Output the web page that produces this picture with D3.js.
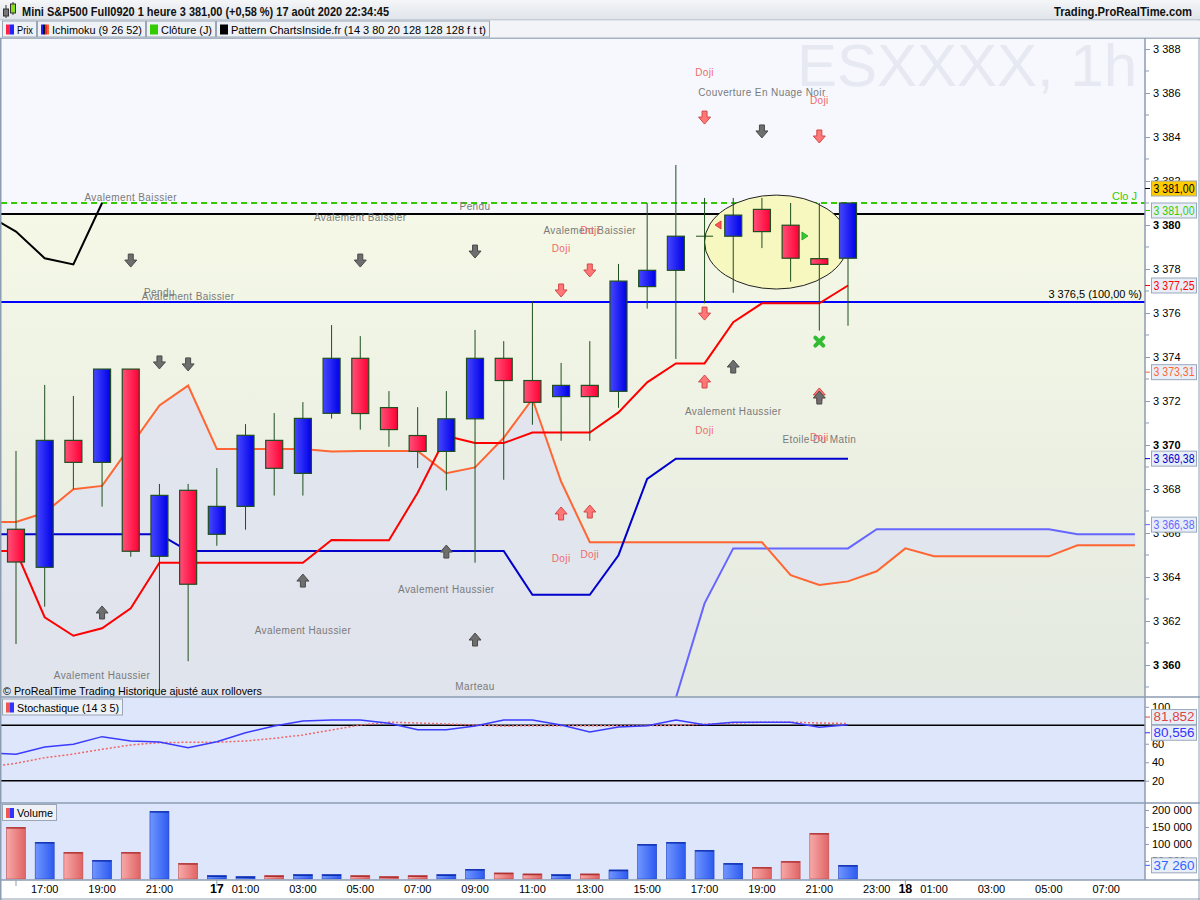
<!DOCTYPE html>
<html><head><meta charset="utf-8">
<script src="https://cdn.jsdelivr.net/npm/d3@7"></script>
<style>body{margin:0;background:#fff;} svg{display:block;font-family:"Liberation Sans",Arial,sans-serif;}</style>
</head><body><svg id="c" width="1200" height="900"></svg>
<script>
// ---------- DATA ----------
const xTickIdx    = [1,3,5,7,8,10,12,14,16,18,20,22,24,26,28,30,31,32,34,36,38];
const xTickLabels = ["17:00","19:00","21:00","17","01:00","03:00","05:00","07:00","09:00","11:00","13:00","15:00","17:00","19:00","21:00","23:00","18","01:00","03:00","05:00","07:00"];

const opens  = [3366.17,3364.44,3370.21,3369.21,3373.45,3364.94,3367.94,3365.94,3367.21,3370.21,3368.71,3371.44,3373.94,3371.70,3370.43,3369.71,3371.19,3373.94,3372.93,3372.20,3372.71,3372.44,3377.20,3377.94,3379.49,3379.49,3380.71,3379.99,3378.47,3378.49];
const highs  = [3369.73,3372.73,3372.23,3373.45,3373.45,3368.23,3368.23,3368.95,3370.95,3371.45,3371.95,3375.45,3374.95,3372.45,3371.72,3372.45,3375.23,3374.72,3376.52,3373.73,3374.72,3378.23,3380.99,3382.73,3381.23,3381.23,3381.23,3381.00,3381.00,3381.00];
const lows   = [3360.95,3362.65,3367.99,3367.20,3364.92,3358.86,3360.17,3365.42,3366.15,3367.70,3367.70,3371.20,3370.70,3369.92,3368.95,3367.94,3364.65,3368.42,3370.92,3370.19,3370.19,3371.69,3376.20,3373.91,3376.44,3376.92,3378.95,3377.42,3375.20,3375.42];
const closes = [3364.68,3370.21,3369.21,3373.45,3365.17,3367.71,3363.67,3367.21,3370.44,3368.94,3371.21,3373.94,3371.43,3370.70,3369.71,3371.19,3373.94,3372.93,3371.94,3372.71,3372.20,3377.45,3377.94,3379.49,3379.49,3380.45,3379.70,3378.49,3378.21,3381.00];
const volumes = [149000,105000,75600,52000,75600,196000,43000,6800,4000,6800,9800,9800,6800,4000,6800,9800,25600,14700,11800,9800,11800,23500,99000,105000,81500,43000,31500,49000,131500,37260];

// Ichimoku (9 26 52) -- series start at index -1
const lineStart = -1;
const tenkan = [3365.18,3365.18,3362.17,3361.33,3361.67,3362.58,3364.65,3364.65,3364.65,3364.65,3364.65,3364.65,3365.68,3365.67,3365.67,3367.83,3370.41,3370.09,3370.09,3370.57,3370.57,3370.57,3371.48,3372.85,3373.71,3373.71,3375.58,3376.44,3376.44,3376.44,3377.25];
const kijun  = [3365.94,3365.94,3365.94,3365.94,3365.94,3365.94,3365.94,3365.18,3365.18,3365.18,3365.18,3365.18,3365.18,3365.18,3365.18,3365.18,3365.18,3365.18,3365.18,3363.19,3363.19,3363.19,3364.99,3368.46,3369.38,3369.38,3369.38,3369.38,3369.38,3369.38,3369.38];
const senkouA = [3366.50,3366.50,3366.92,3367.99,3368.14,3369.97,3371.80,3372.70,3369.82,3369.82,3369.82,3369.82,3369.70,3369.73,3369.73,3369.73,3368.72,3368.98,3370.33,3372.09,3368.34,3365.58,3365.58,3365.58,3365.58,3365.58,3365.58,3365.58,3364.08,3363.64,3363.80,3364.26,3365.30,3364.94,3364.94,3364.94,3364.94,3364.94,3365.44,3365.44,3365.44];
const senkouB = [3357.0,3357.0,3357.0,3357.0,3357.0,3357.0,3357.0,3357.0,3357.0,3357.0,3357.0,3357.0,3357.0,3357.0,3357.0,3357.0,3357.0,3357.0,3357.0,3357.0,3357.0,3357.0,3357.0,3357.0,3358.5,3362.8,3365.3,3365.3,3365.3,3365.3,3365.3,3366.17,3366.17,3366.17,3366.17,3366.17,3366.17,3366.17,3365.94,3365.94,3365.94];
const chikou = [3380.45,3379.70,3378.49,3378.21,3381.00];

// Stochastique (14 3 5) -- start at index -1
const stochK = [50.0,48.6,56.5,59.4,67.7,63.0,61.9,55.7,62.2,72.0,79.2,84.7,85.7,85.7,82.2,75.2,75.2,79.2,85.7,85.7,80.3,72.7,78.2,79.6,85.7,80.7,83.3,83.3,83.3,77.8,80.56];
const stochD = [34.5,38.9,44.9,48.9,54.0,58.7,61.2,61.6,61.6,63.0,65.9,69.5,74.9,80.3,83.3,82.5,81.4,80.3,79.2,79.6,79.6,79.6,79.6,79.6,80.0,81.1,82.5,83.3,83.3,82.5,81.85];

// horizontal levels
const closeDay = 3381.00, blackLevel = 3380.5, fibLevel = 3376.5;

// pattern annotations: [text, index, price]
const grayTexts = [
 ["Avalement Baissier",4,3381.27],["Avalement Baissier",12,3380.36],["Pendu",16,3380.82],["Pendu",5,3376.91],
 ["Avalement Baissier",6,3376.73],["Avalement Baissier",20,3379.77],["Couverture En Nuage Noir",26,3386.0],
 ["Avalement Haussier",25,3371.5],["Etoile Du Matin",28,3370.23],["Avalement Haussier",15,3363.45],
 ["Avalement Haussier",10,3361.55],["Avalement Haussier",3,3359.5],["Marteau",16,3359.0]];
const dojiTexts = [[24,3386.91],[28,3385.68],[19,3378.91],[20,3379.77],[24,3370.64],[28,3370.36],[19,3364.82],[20,3365.0]];
const grayDown = [[4,3378.36],[5,3373.73],[6,3373.64],[12,3378.36],[16,3378.77],[26,3384.23]];
const grayUp   = [[3,3362.41],[10,3363.86],[15,3365.18],[16,3361.18],[25,3373.59],[28,3372.18]];
const pinkDown = [[19,3377.0],[20,3377.91],[24,3384.86],[28,3384.0],[24,3375.95]];
const pinkUp   = [[19,3366.91],[20,3367.0],[24,3372.91],[28,3372.32]];
const ellipseBox = {i0:24, i1:29, vTop:3381.36, vBot:3377.09};

// axis tick values
const mainTicks = d3.range(3360, 3389, 2);
const stochTicks = [100,60,40,20];
const volTicks = [200000,150000,100000,50000];

// ---------- LAYOUT ----------
const svg = d3.select('#c');
const PR = 1145; // plot right
const MT = 38, MB = 697, ST = 697, SB = 803, VT = 803, VB = 880;
const x = d3.scaleLinear().domain([0,39]).range([16,1134.9]);
const yM = d3.scaleLinear().domain([3358.545,3388.5]).range([MB,MT]);
const yS = d3.scaleLinear().domain([0,100]).range([799.2,706.8]);
const yV = d3.scaleLinear().domain([0,200000]).range([878,810]);
const fmt = v => { const s = d3.format(",.2f")(v); return s.replace(/,/g,' ').replace('.',','); };
const fmtInt = v => d3.format(",")(v).replace(/,/g,' ');

const defs = svg.append('defs');
function lg(id, stops, vertical){
  const g = defs.append('linearGradient').attr('id',id).attr('x1',0).attr('y1',0).attr('x2',vertical?0:1).attr('y2',vertical?1:0);
  stops.forEach(s=>g.append('stop').attr('offset',s[0]).attr('stop-color',s[1]));
}
lg('gRed',[[0,'#ff5078'],[1,'#ff0035']]);
lg('gBlue',[[0,'#4747ff'],[1,'#0000e8']]);
lg('vRed',[[0,'#f7a9a9'],[1,'#e06464']]);
lg('vBlue',[[0,'#7096ff'],[1,'#2d5af0']]);
lg('bgLow',[[0,'#f5f8e6'],[1,'#e4e9e1']],true);
lg('title',[[0,'#f4f6f8'],[1,'#e0e4e9']],true);
[['cMain',MT,MB],['cStoch',ST,SB],['cVol',VT,VB]].forEach(c=>{
  defs.append('clipPath').attr('id',c[0]).append('rect').attr('x',1).attr('y',c[1]).attr('width',PR-1).attr('height',c[2]-c[1]);
});

// ---------- BACKGROUNDS ----------
svg.append('rect').attr('x',0).attr('y',0).attr('width',1200).attr('height',900).attr('fill','#ffffff');
svg.append('rect').attr('x',1).attr('y',MT).attr('width',PR-1).attr('height',yM(blackLevel)-MT).attr('fill','#f6f8fd');
svg.append('rect').attr('x',1).attr('y',yM(blackLevel)).attr('width',PR-1).attr('height',MB-yM(blackLevel)).attr('fill','url(#bgLow)');
svg.append('rect').attr('x',1).attr('y',ST).attr('width',PR-1).attr('height',SB-ST).attr('fill','#dee6fb');
svg.append('rect').attr('x',1).attr('y',VT).attr('width',PR-1).attr('height',VB-VT).attr('fill','#dee6fb');

// ---------- MAIN PANEL ----------
const gM = svg.append('g').attr('clip-path','url(#cMain)');
// watermark
gM.append('text').attr('x',1137).attr('y',86).attr('text-anchor','end').attr('font-size',60)
  .attr('textLength',340).attr('lengthAdjust','spacingAndGlyphs')
  .attr('fill','#e6e9f2').text('ESXXXX, 1h');
const idx = i => i + lineStart;
// cloud
const area = d3.area().x((d,i)=>x(idx(i))).y0((d,i)=>yM(senkouB[i])).y1(d=>yM(d));
gM.append('path').datum(senkouA).attr('d',area).attr('fill','#dfe3ee').attr('opacity',0.85);

const line = d3.line().x((d,i)=>x(idx(i))).y(d=>yM(d));
gM.append('path').datum(senkouB).attr('d',line).attr('fill','none').attr('stroke','#6666ff').attr('stroke-width',2);
gM.append('path').datum(senkouA).attr('d',line).attr('fill','none').attr('stroke','#ff6633').attr('stroke-width',2);

// horizontal levels
gM.append('line').attr('x1',1).attr('x2',PR).attr('y1',yM(blackLevel)).attr('y2',yM(blackLevel)).attr('stroke','#000').attr('stroke-width',2);
gM.append('line').attr('x1',1).attr('x2',PR).attr('y1',yM(fibLevel)).attr('y2',yM(fibLevel)).attr('stroke','#0000ff').attr('stroke-width',2);
gM.append('line').attr('x1',1).attr('x2',PR).attr('y1',yM(closeDay)).attr('y2',yM(closeDay)).attr('stroke','#33cc00').attr('stroke-width',2).attr('stroke-dasharray','6,4');

// ellipse
gM.append('ellipse').attr('cx',(x(ellipseBox.i0)+x(ellipseBox.i1))/2).attr('cy',(yM(ellipseBox.vTop)+yM(ellipseBox.vBot))/2)
  .attr('rx',(x(ellipseBox.i1)-x(ellipseBox.i0))/2).attr('ry',(yM(ellipseBox.vBot)-yM(ellipseBox.vTop))/2)
  .attr('fill','#f7f7c0').attr('stroke','#222').attr('stroke-width',1);

// ichimoku lines
gM.append('path').datum(kijun).attr('d',line).attr('fill','none').attr('stroke','#0000cc').attr('stroke-width',2);
gM.append('path').datum(tenkan).attr('d',line).attr('fill','none').attr('stroke','#ff0000').attr('stroke-width',2);
gM.append('path').datum(chikou).attr('d',line).attr('fill','none').attr('stroke','#000').attr('stroke-width',2);

// candles
const bw = 17;
const candles = gM.append('g');
opens.forEach((o,i)=>{
  const c = closes[i], cx = x(i);
  candles.append('line').attr('x1',cx).attr('x2',cx).attr('y1',yM(highs[i])).attr('y2',yM(lows[i])).attr('stroke','#1f4f1f').attr('stroke-width',1);
  if (o === c) {
    candles.append('line').attr('x1',cx-bw/2).attr('x2',cx+bw/2).attr('y1',yM(o)).attr('y2',yM(o)).attr('stroke','#1f4f1f').attr('stroke-width',1);
  } else {
    const up = c > o;
    candles.append('rect').attr('x',cx-bw/2).attr('width',bw).attr('y',yM(Math.max(o,c))).attr('height',Math.max(1,Math.abs(yM(o)-yM(c))))
      .attr('fill',up?'url(#gBlue)':'url(#gRed)').attr('stroke','#1f4f1f').attr('stroke-width',1.2);
  }
});

// markers
gM.append('path').attr('d',`M${x(24.47)+3},${yM(3380.0)-4} L${x(24.47)-3},${yM(3380.0)} L${x(24.47)+3},${yM(3380.0)+4} Z`).attr('fill','#ff5555').attr('stroke','#cc3333').attr('stroke-width',0.8);
gM.append('path').attr('d',`M${x(27.5)-3},${yM(3379.5)-4} L${x(27.5)+3},${yM(3379.5)} L${x(27.5)-3},${yM(3379.5)+4} Z`).attr('fill','#33cc33').attr('stroke','#229922').attr('stroke-width',0.8);
{
  const cx = x(28), cy = yM(3374.7);
  gM.append('path').attr('d',`M${cx-4},${cy-4} L${cx+4},${cy+4} M${cx+4},${cy-4} L${cx-4},${cy+4}`).attr('stroke','#33bb33').attr('stroke-width',4).attr('stroke-linecap','round');
}

// arrows
function arrow(cx, cy, down, fill, stroke){
  const s = down ? 1 : -1;
  const p = `M${cx-2.5},${cy-7*s} L${cx+2.5},${cy-7*s} L${cx+2.5},${cy-1*s} L${cx+6},${cy-1*s} L${cx},${cy+6*s} L${cx-6},${cy-1*s} L${cx-2.5},${cy-1*s} Z`;
  gM.append('path').attr('d',p).attr('fill',fill).attr('stroke',stroke).attr('stroke-width',1);
}
pinkUp.forEach(d=>arrow(x(d[0]),yM(d[1]),false,'#ff7777','#d04848'));
pinkDown.forEach(d=>arrow(x(d[0]),yM(d[1]),true,'#ff7777','#d04848'));
grayDown.forEach(d=>arrow(x(d[0]),yM(d[1]),true,'#6e6e6e','#4a4a4a'));
grayUp.forEach(d=>arrow(x(d[0]),yM(d[1]),false,'#6e6e6e','#4a4a4a'));

// pattern texts
grayTexts.forEach(d=>gM.append('text').attr('x',x(d[1])).attr('y',yM(d[2])).attr('dy','0.35em').attr('text-anchor','middle')
  .attr('font-size',10).attr('letter-spacing',0.4).attr('fill','#7a7a7a').text(d[0]));
dojiTexts.forEach(d=>gM.append('text').attr('x',x(d[0])).attr('y',yM(d[1])).attr('dy','0.35em').attr('text-anchor','middle')
  .attr('font-size',10).attr('letter-spacing',0.4).attr('fill','#f06a6a').text('Doji'));

// level texts
svg.append('text').attr('x',1142).attr('y',yM(fibLevel)-4).attr('text-anchor','end').attr('font-size',11).attr('fill','#000').text('3 376,5 (100,00 %)');
svg.append('text').attr('x',1137).attr('y',yM(closeDay)-3).attr('text-anchor','end').attr('font-size',11).attr('fill','#33cc00').text('Clo J');
svg.append('text').attr('x',3).attr('y',695).attr('font-size',11.5).attr('textLength',259).attr('lengthAdjust','spacingAndGlyphs')
  .attr('fill','#000').text('© ProRealTime Trading  Historique ajusté aux rollovers');

// ---------- STOCH PANEL ----------
const gS = svg.append('g').attr('clip-path','url(#cStoch)');
const sLine = d3.line().x((d,i)=>x(idx(i))).y(d=>yS(d));
[80,20].forEach(v=>gS.append('line').attr('x1',1).attr('x2',PR).attr('y1',yS(v)).attr('y2',yS(v)).attr('stroke','#000').attr('stroke-width',1.5));
gS.append('path').datum(stochD).attr('d',sLine).attr('fill','none').attr('stroke','#ee6666').attr('stroke-width',1.5).attr('stroke-dasharray','2,2');
gS.append('path').datum(stochK).attr('d',sLine).attr('fill','none').attr('stroke','#3b3bff').attr('stroke-width',1.5);

// ---------- VOLUME PANEL ----------
const gV = svg.append('g').attr('clip-path','url(#cVol)');
volumes.forEach((v,i)=>{
  const up = closes[i] >= opens[i];
  gV.append('rect').attr('x',x(i)-9.5).attr('width',19).attr('y',yV(v)).attr('height',yV(0)-yV(v)+1)
    .attr('fill',up?'url(#vBlue)':'url(#vRed)');
  gV.append('line').attr('x1',x(i)-9.5).attr('x2',x(i)+9.5).attr('y1',yV(v)+0.5).attr('y2',yV(v)+0.5).attr('stroke',up?'#0a2aa8':'#a82a2a').attr('stroke-width',1.5);
  gV.append('rect').attr('x',x(i)-9.5).attr('width',19).attr('y',yV(v)).attr('height',yV(0)-yV(v)+1)
    .attr('fill','none').attr('stroke',up?'#2040c0':'#c04848').attr('stroke-width',0.6);
});

// ---------- PANEL FRAMES ----------
const frame = '#8d9db2';
[MT,MB,SB,VB].forEach(yy=>svg.append('line').attr('x1',0).attr('x2',1200).attr('y1',yy).attr('y2',yy).attr('stroke',frame).attr('stroke-width',1.5));
svg.append('line').attr('x1',PR).attr('x2',PR).attr('y1',MT).attr('y2',VB).attr('stroke',frame).attr('stroke-width',1.5);
svg.append('line').attr('x1',0.75).attr('x2',0.75).attr('y1',MT).attr('y2',900).attr('stroke',frame).attr('stroke-width',1.5);
svg.append('line').attr('x1',1199).attr('x2',1199).attr('y1',20).attr('y2',900).attr('stroke',frame).attr('stroke-width',1);
svg.append('line').attr('x1',0).attr('x2',1200).attr('y1',899).attr('y2',899).attr('stroke',frame).attr('stroke-width',1);

// ---------- AXES ----------
const axM = svg.append('g').attr('transform',`translate(${PR},0)`)
  .call(d3.axisRight(yM).tickValues(mainTicks).tickSize(5).tickPadding(3).tickFormat(v=>fmtInt(v)));
axM.select('.domain').remove();
axM.selectAll('text').attr('font-size',11).attr('font-family','Liberation Sans, Arial').attr('font-weight',d=>d%10===0?'bold':'normal').attr('fill','#000');
axM.selectAll('line').attr('stroke','#8d9db2');
svg.append('g').selectAll('line').data(d3.range(3359,3389,2)).join('line')
  .attr('x1',PR).attr('x2',PR+4).attr('y1',d=>yM(d)).attr('y2',d=>yM(d)).attr('stroke','#8d9db2');

const axS = svg.append('g').attr('transform',`translate(${PR},0)`)
  .call(d3.axisRight(yS).tickValues(stochTicks).tickSize(4).tickPadding(3));
axS.select('.domain').remove();
axS.selectAll('text').attr('font-size',11).attr('font-family','Liberation Sans, Arial').attr('fill','#000');
axS.selectAll('line').attr('stroke','#8d9db2');

const axV = svg.append('g').attr('transform',`translate(${PR},0)`)
  .call(d3.axisRight(yV).tickValues(volTicks).tickSize(4).tickPadding(3).tickFormat(v=>fmtInt(v)));
axV.select('.domain').remove();
axV.selectAll('text').attr('font-size',11).attr('font-family','Liberation Sans, Arial').attr('fill','#000');
axV.selectAll('line').attr('stroke','#8d9db2');

// x axis
const gx = svg.append('g');
xTickIdx.forEach((t,k)=>{
  const lab = xTickLabels[k], day = lab.length <= 2;
  gx.append('text').attr('x',x(t)).attr('y',893).attr('text-anchor','middle')
    .attr('font-size',day?12.5:11).attr('font-weight',day?'bold':'normal').attr('fill','#000').text(lab);
});
[0,7,31].forEach(t=>gx.append('line').attr('x1',x(t)).attr('x2',x(t)).attr('y1',VB).attr('y2',VB+6).attr('stroke','#8d9db2'));

// value boxes
function vbox(cy, txt, col, bg){
  svg.append('rect').attr('x',1151.5).attr('y',cy-7.5).attr('width',45).attr('height',15).attr('fill',bg||'#e8eef8').attr('stroke','#9aa8bc').attr('stroke-width',1);
  svg.append('text').attr('x',1153.5).attr('y',cy+4.3).attr('font-size',12).attr('textLength',41).attr('lengthAdjust','spacingAndGlyphs').attr('fill',col).text(txt);
  svg.append('line').attr('x1',PR).attr('x2',PR+5).attr('y1',cy).attr('y2',cy).attr('stroke',col);
}
vbox(yM(closeDay)-14.5, fmt(closes[29]), '#000', '#ffcc00');
vbox(yM(closeDay)+7.5, fmt(closeDay), '#33cc00');
vbox(yM(3377.25), fmt(3377.25), '#ff0000');
vbox(yM(3373.31), fmt(3373.31), '#ff6633');
vbox(yM(3369.38), fmt(3369.38), '#0000cc');
vbox(yM(3366.38), fmt(3366.38), '#6666ff');
vbox(yS(81.852)-6.5, '81,852', '#dd4444');
vbox(yS(80.556)+8, '80,556', '#3333ff');
vbox(yV(37260), fmtInt(37260), '#3366ff');

// ---------- HEADER ----------
svg.append('rect').attr('x',0).attr('y',0).attr('width',1200).attr('height',20).attr('fill','url(#title)');
svg.append('line').attr('x1',0).attr('x2',1200).attr('y1',20).attr('y2',20).attr('stroke','#a8b4c2');
// icon
svg.append('line').attr('x1',6).attr('x2',6).attr('y1',5).attr('y2',18).attr('stroke','#333');
svg.append('rect').attr('x',3.5).attr('y',9).attr('width',5).attr('height',7).attr('fill','#777').attr('stroke','#333');
svg.append('line').attr('x1',13).attr('x2',13).attr('y1',2).attr('y2',15).attr('stroke','#333');
svg.append('rect').attr('x',10.5).attr('y',4).attr('width',5).attr('height',9).attr('fill','#88dd22').attr('stroke','#333');
svg.append('text').attr('x',22).attr('y',15.5).attr('font-size',12).attr('font-weight','bold').attr('fill','#111')
  .attr('textLength',367).attr('lengthAdjust','spacingAndGlyphs')
  .text('Mini S&P500 Full0920 1 heure 3 381,00 (+0,58 %) 17 août 2020 22:34:45');
svg.append('text').attr('x',1192).attr('y',15.5).attr('text-anchor','end').attr('font-size',12).attr('font-weight','bold').attr('fill','#111')
  .attr('textLength',138).attr('lengthAdjust','spacingAndGlyphs')
  .text('Trading.ProRealTime.com');

// legend row
svg.append('rect').attr('x',0).attr('y',20.5).attr('width',1200).attr('height',17).attr('fill','#f2f4f7');
const legend = [
  {x:2,w:35,t:'Prix',sw:['#ff2244','#2222ff']},
  {x:37,w:109,t:'Ichimoku (9 26 52)',sw:['#2222ff','#111','#ff2222','#ff6633']},
  {x:146,w:70,t:'Clôture (J)',sw:['#33cc00']},
  {x:216,w:274,t:'Pattern ChartsInside.fr (14 3 80 20 128 128 128 f t t)',sw:['#000']}
];
function legendBox(lx, ly, w, t, sw){
  svg.append('rect').attr('x',lx+0.5).attr('y',ly+0.5).attr('width',w-1).attr('height',16).attr('fill','#eef1f5').attr('stroke','#9aa6b6');
  const sww = 8/sw.length;
  sw.forEach((c,k)=>svg.append('rect').attr('x',lx+4+k*sww).attr('y',ly+4).attr('width',sww).attr('height',10).attr('fill',c));
  svg.append('text').attr('x',lx+15).attr('y',ly+13).attr('font-size',11.5).attr('fill','#000')
    .attr('textLength',w-19).attr('lengthAdjust','spacingAndGlyphs').text(t);
}
legend.forEach(l=>legendBox(l.x,20.5,l.w,l.t,l.sw));
legendBox(2,698.5,121,'Stochastique (14 3 5)',['#ee5555','#3333ff']);
legendBox(2,804,55,'Volume',['#ee5555','#3333ff']);
</script></body></html>
